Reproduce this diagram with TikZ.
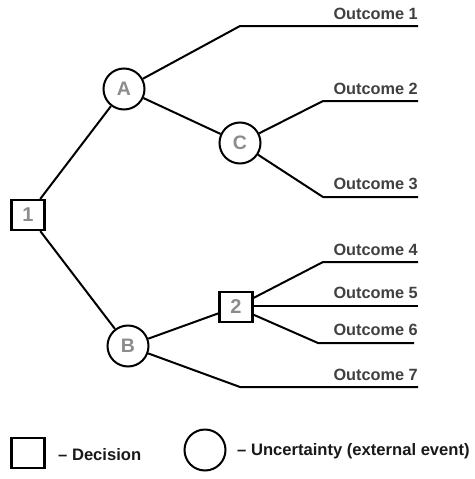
\documentclass[tikz,border=0pt]{standalone}
\usepackage{fontspec}
\setmainfont{Liberation Sans}
\begin{document}
\begin{tikzpicture}[x=1pt,y=-1pt,
  every node/.style={font=\bfseries},
  dec/.style={draw, line width=2.2pt, minimum width=33pt, minimum height=30pt, inner sep=0pt, text=gray!90, font=\bfseries\fontsize{20}{20}\selectfont},
  unc/.style={draw, circle, line width=2pt, minimum size=41pt, inner sep=0pt, text=gray!90, font=\bfseries\fontsize{19.5}{19.5}\selectfont},
  br/.style={line width=2pt, black},
  lab/.style={anchor=base east, inner sep=0pt, text=black!75, font=\bfseries\fontsize{16.3}{16.3}\selectfont},
  leg/.style={anchor=base west, inner sep=0pt, text=black!90, font=\bfseries\fontsize{16.6}{16.6}\selectfont}]
\useasboundingbox (0,0) rectangle (474,479);
\node[dec] (n1) at (28,215) {1};
\node[unc] (A) at (124,89) {A};
\node[unc] (C) at (240,143) {C};
\node[unc] (B) at (128,346) {B};
\node[dec] (n2) at (236,307) {2};
\coordinate (k1) at (240,26);  \coordinate (e1) at (418,26);
\coordinate (k2) at (323,101); \coordinate (e2) at (418,101);
\coordinate (k3) at (323,197); \coordinate (e3) at (418,197);
\coordinate (k4) at (323,262); \coordinate (e4) at (418,262);
\coordinate (e5) at (418,306);
\coordinate (k6) at (318,343); \coordinate (e6) at (414,343);
\coordinate (k7) at (240,387); \coordinate (e7) at (418,387);
\draw[br] (n1) -- (A);
\draw[br] (n1) -- (B);
\draw[br] (A) -- (C);
\draw[br] (B) -- (n2);
\draw[br] (A) -- (k1) -- (e1);
\draw[br] (C) -- (k2) -- (e2);
\draw[br] (C) -- (k3) -- (e3);
\draw[br] (n2) -- (k4) -- (e4);
\draw[br] (n2.east |- e5) -- (e5);
\draw[br] (n2) -- (k6) -- (e6);
\draw[br] (B) -- (k7) -- (e7);
\node[lab] (l1) at (418,19) {Outcome 1};
\node[lab] (l2) at (418,94) {Outcome 2};
\node[lab] (l3) at (418,189) {Outcome 3};
\node[lab] (l4) at (418,255) {Outcome 4};
\node[lab] (l5) at (418,298) {Outcome 5};
\node[lab] (l6) at (418,335) {Outcome 6};
\node[lab] (l7) at (418,380) {Outcome 7};
\node[dec] (ld) at (28,453) {};
\node[leg] (td) at (58,460) {– Decision};
\node[unc] (lu) at (205,450) {};
\node[leg] (tu) at (237,455) {– Uncertainty (external event)};
\end{tikzpicture}
\end{document}
